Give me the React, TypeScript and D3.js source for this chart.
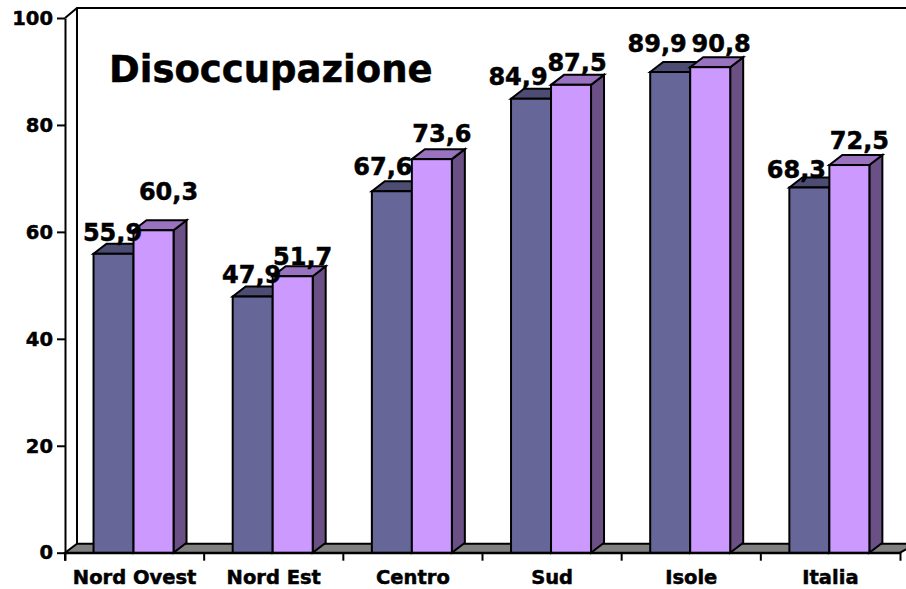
import React, { useEffect, useRef } from "react";
import * as d3 from "d3";

const categories = ["Nord Ovest", "Nord Est", "Centro", "Sud", "Isole", "Italia"];
const seriesNames = ["a", "b"];
const seriesA = [55.9, 47.9, 67.6, 84.9, 89.9, 68.3];
const seriesB = [60.3, 51.7, 73.6, 87.5, 90.8, 72.5];
const yTicks = [0, 20, 40, 60, 80, 100];

// the labels were moved by hand in the original: [dx, dy] from the bar's top centre
const nudgeA = [[-1, -13], [-1, -14], [-9, -16], [-13, -14], [-13, -20], [-13, -9]];
const nudgeB = [[15, -30], [10, -11], [10, -17], [6, -14], [11, -15], [10, -16]];

const frontColors = ["#666699", "#cc99ff"];
const topColors = ["#4d4d73", "#9973bf"];
const sideColors = ["#4d4d73", "#6b5085"];
const FONT = "'DejaVu Sans', Verdana, sans-serif";

const W = 906;
const H = 589;
const depthX = 13;
const depthY = 10;
const LINE = 2;
const HEAVY = 0.5; // original text is a bit blacker than plain DejaVu Bold

export default function App() {
  const ref = useRef<SVGSVGElement>(null);

  useEffect(() => {
    const svg = d3.select(ref.current);
    svg.selectAll("*").remove();

    const x0 = d3.scaleBand<string>().domain(categories).range([65, 900]);
    const band = x0.bandwidth();
    const x1 = d3
      .scaleBand<string>()
      .domain(seriesNames)
      .range([band * 0.205, band * 0.205 + 80]);
    const y = d3.scaleLinear().domain([0, 100]).range([552.7, 18]);
    const y0 = y(0);

    // back wall + floor
    const wall = d3.line();
    svg
      .append("path")
      .attr("d", wall([[65, y0], [65 + 12, y0 - 9], [W + 10, y0 - 9], [900, y0]]) + "Z")
      .attr("fill", "#808080")
      .attr("stroke", "#000")
      .attr("stroke-width", LINE);
    svg
      .append("path")
      .attr("d", wall([[65, y(100)], [77, y(100) - 10], [W + 10, y(100) - 10]]))
      .attr("fill", "none")
      .attr("stroke", "#000")
      .attr("stroke-width", LINE);
    svg
      .append("path")
      .attr("d", wall([[77, y(100) - 10], [77, y0 - 9]]))
      .attr("stroke", "#000")
      .attr("stroke-width", LINE);

    // axes
    const left = svg
      .append("g")
      .attr("transform", "translate(65,0)")
      .call(d3.axisLeft(y).tickValues(yTicks).tickSize(8).tickPadding(4).tickSizeOuter(0));
    const bottom = svg
      .append("g")
      .attr("transform", `translate(0,${y0})`)
      .call(d3.axisBottom(x0).tickSize(0).tickPadding(24).tickSizeOuter(8));
    [left, bottom].forEach((g) => {
      g.selectAll("path,line").attr("stroke", "#000").attr("stroke-width", LINE);
      g.selectAll("text")
        .attr("fill", "#000")
        .attr("stroke", "#000")
        .attr("stroke-width", HEAVY)
        .attr("font-family", FONT)
        .attr("font-weight", "bold")
        .attr("font-size", 19.5);
    });
    bottom.selectAll("text").attr("dy", 0).attr("y", 31);
    // category separators on the axis
    bottom
      .selectAll("line.sep")
      .data(categories)
      .enter()
      .append("line")
      .attr("class", "sep")
      .attr("x1", (d) => x0(d)!)
      .attr("x2", (d) => x0(d)!)
      .attr("y1", 0)
      .attr("y2", 8)
      .attr("stroke", "#000")
      .attr("stroke-width", LINE);

    // bars
    const seriesValues = [seriesA, seriesB];
    const nudges = [nudgeA, nudgeB];
    const bw = x1.bandwidth();
    const poly = d3.line();

    categories.forEach((c, i) => {
      seriesNames.forEach((s, k) => {
        const v = seriesValues[k][i];
        const bx = x0(c)! + x1(s)!;
        const top = y(v);
        const g = svg.append("g").attr("stroke", "#000").attr("stroke-width", LINE);
        g.append("path")
          .attr("d", poly([[bx + bw, top], [bx + bw + depthX, top - depthY], [bx + bw + depthX, y0 - depthY], [bx + bw, y0]]) + "Z")
          .attr("fill", sideColors[k]);
        g.append("path")
          .attr("d", poly([[bx, top], [bx + depthX, top - depthY], [bx + bw + depthX, top - depthY], [bx + bw, top]]) + "Z")
          .attr("fill", topColors[k]);
        g.append("rect")
          .attr("x", bx)
          .attr("y", top)
          .attr("width", bw)
          .attr("height", y0 - top)
          .attr("fill", frontColors[k]);
      });
    });

    // value labels above everything
    categories.forEach((c, i) => {
      seriesNames.forEach((s, k) => {
        const v = seriesValues[k][i];
        const [dx, dy] = nudges[k][i];
        svg
          .append("text")
          .attr("x", x0(c)! + x1(s)! + bw / 2 + dx)
          .attr("y", y(v) + dy)
          .attr("text-anchor", "middle")
          .attr("font-family", FONT)
          .attr("font-weight", "bold")
          .attr("font-size", 24)
          .attr("stroke", "#000")
          .attr("stroke-width", HEAVY)
          .text(v.toFixed(1).replace(".", ","));
      });
    });

    svg
      .append("text")
      .attr("x", 109)
      .attr("y", 82)
      .attr("font-family", FONT)
      .attr("font-weight", "bold")
      .attr("font-size", 37)
      .attr("stroke", "#000")
      .attr("stroke-width", HEAVY)
      .text("Disoccupazione");
  }, []);

  return (
    <svg
      ref={ref}
      width={W}
      height={H}
      style={{ position: "absolute", left: 0, top: 0, background: "#fff" }}
    />
  );
}
